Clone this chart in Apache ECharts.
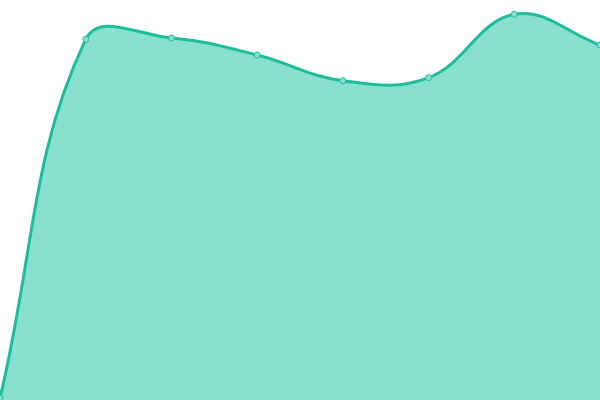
<!DOCTYPE html>
<html><head><meta charset="utf-8">
<script src="https://cdn.jsdelivr.net/npm/echarts@6/dist/echarts.min.js"></script>
<style>html,body{margin:0;padding:0;background:#fff}#c{width:600px;height:400px}</style>
</head><body><div id="c"></div>
<script>
var categories = ['1','2','3','4','5','6','7','8'];
var values = [2, 360.7, 362, 345, 319.3, 322.3, 385.7, 355];
var lineColor = '#1dbc9a';
var fillColor = '#88e0cf';
var tension = 0.4;

function splinePath(pts, w, h) {
  var n = pts.length, cps = [];
  function cap(p) { return [Math.max(0, Math.min(w, p[0])), Math.max(0, Math.min(h, p[1]))]; }
  for (var i = 0; i < n; i++) {
    var cur = pts[i], prev = pts[i - 1] || cur, next = pts[i + 1] || cur;
    var d01 = Math.hypot(cur[0] - prev[0], cur[1] - prev[1]);
    var d12 = Math.hypot(next[0] - cur[0], next[1] - cur[1]);
    var s01 = d01 / (d01 + d12 || 1), s12 = d12 / (d01 + d12 || 1);
    var fa = tension * s01, fb = tension * s12;
    cps.push({
      p: cap([cur[0] - fa * (next[0] - prev[0]), cur[1] - fa * (next[1] - prev[1])]),
      n: cap([cur[0] + fb * (next[0] - prev[0]), cur[1] + fb * (next[1] - prev[1])])
    });
  }
  var d = 'M' + pts[0][0] + ' ' + pts[0][1];
  for (var j = 1; j < n; j++) {
    var a = cps[j - 1].n, b = cps[j].p;
    d += ' C' + a[0] + ' ' + a[1] + ' ' + b[0] + ' ' + b[1] + ' ' + pts[j][0] + ' ' + pts[j][1];
  }
  return d;
}

var chart = echarts.init(document.getElementById('c'));
chart.setOption({
  animation: false,
  grid: {left: 0, right: 0, top: 0, bottom: 0},
  xAxis: {type: 'category', data: categories, boundaryGap: false, show: false},
  yAxis: {type: 'value', min: 0, max: 400, show: false},
  series: [{
    type: 'custom',
    data: values.map(function (v, i) { return [i, v]; }),
    encode: {x: 0, y: 1},
    clip: false,
    renderItem: function (params, api) {
      var children = [];
      var pt = api.coord([api.value(0), api.value(1)]);
      if (params.dataIndex === 0) {
        var pts = values.map(function (v, i) { return api.coord([i, v]); });
        var base0 = api.coord([0, 0]), base1 = api.coord([values.length - 1, 0]);
        var curve = splinePath(pts, params.coordSys.width, params.coordSys.height);
        children.push({
          type: 'path', z2: 1,
          shape: {pathData: curve + ' L' + base1[0] + ' ' + base1[1] + ' L' + base0[0] + ' ' + base0[1] + ' Z'},
          style: {fill: fillColor, stroke: null}
        });
        children.push({
          type: 'path', z2: 2,
          shape: {pathData: curve},
          style: {fill: null, stroke: lineColor, lineWidth: 3}
        });
      }
      children.push({
        type: 'circle', z2: 10,
        shape: {cx: pt[0], cy: pt[1], r: 3},
        style: {fill: fillColor, stroke: lineColor, lineWidth: 1}
      });
      return {type: 'group', children: children};
    }
  }]
});
</script></body></html>
